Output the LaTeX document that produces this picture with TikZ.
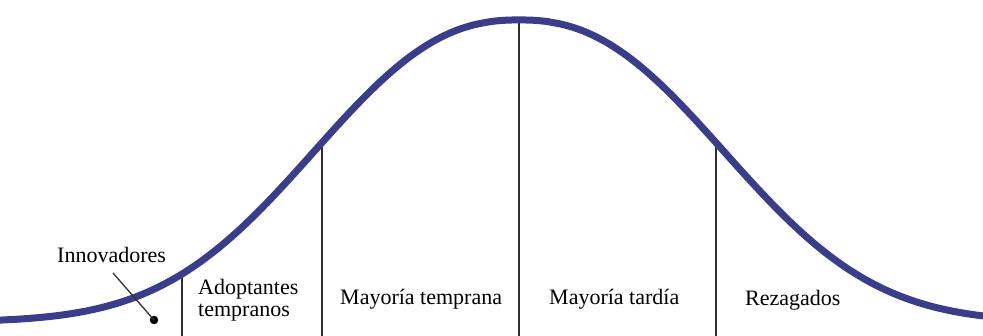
\documentclass[tikz,border=0pt]{standalone}
\usepackage{fontspec}
\setmainfont{Liberation Serif}
\newfontfamily\lblfont{Liberation Serif}
\begin{document}
\begin{tikzpicture}[x=1pt,y=-1pt,
  curvestyle/.style={line width=7pt, draw={rgb,255:red,57;green,61;blue,138}, line cap=round, line join=round},
  divider/.style={line width=2pt, draw={rgb,255:red,45;green,45;blue,45}},
  pointer/.style={line width=1.3pt, draw={rgb,255:red,50;green,50;blue,50}},
  lbl/.style={anchor=base west, inner sep=0pt, font=\lblfont\fontsize{22}{22}\selectfont, text=black},
  dotstyle/.style={circle, fill=black, inner sep=0pt, minimum size=8.5pt}]
\useasboundingbox (0,0) rectangle (983,336);
\clip (0,0) rectangle (983,336);
% dividers
\coordinate (d1t) at (182,274); \coordinate (d1b) at (182,340);
\coordinate (d2t) at (322,143); \coordinate (d2b) at (322,340);
\coordinate (d3t) at (519,20);  \coordinate (d3b) at (519,340);
\coordinate (d4t) at (716,143); \coordinate (d4b) at (716,340);
\draw[divider] (d1t) -- (d1b);
\draw[divider] (d2t) -- (d2b);
\draw[divider] (d3t) -- (d3b);
\draw[divider] (d4t) -- (d4b);
% bell curve
\draw[curvestyle] plot[domain=-12:996, samples=260, smooth]
  (\x, {322-302*exp(-1*pow((abs(\x-519)+0.01)/260,2.35))});
% labels
\node[lbl] (inno) at (57,263) {Innovadores};
\coordinate (innoStart) at (113,273);
\node[dotstyle] (innoDot) at (154,320) {};
\draw[pointer] (innoStart) -- (innoDot.center);
\node[lbl] (adop1) at (198,295) {Adoptantes};
\node[lbl] (adop2) at (198,317) {tempranos};
\node[lbl] (mtemp) at (340,305) {Mayoría temprana};
\node[lbl] (mtard) at (549,305) {Mayoría tardía};
\node[lbl] (reza) at (745,306) {Rezagados};
\end{tikzpicture}
\end{document}
